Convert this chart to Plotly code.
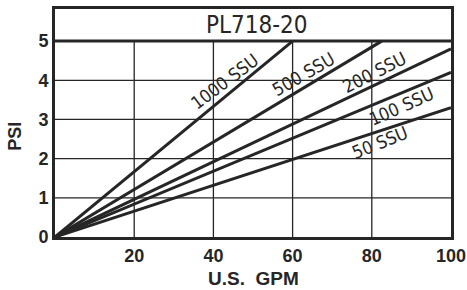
import plotly.graph_objects as go

# Data
series_names = ["1000 SSU", "500 SSU", "200 SSU", "100 SSU", "50 SSU"]
gpm_start = [0, 0, 0, 0, 0]
psi_start = [0, 0, 0, 0, 0]
gpm_end = [60, 82.5, 100, 100, 100]
psi_end = [5, 5, 4.8, 4.2, 3.3]

# Label positions / angles for each curve label
label_x = [42.8, 62.5, 80.5, 87.3, 82.0]
label_y = [3.98, 4.16, 4.21, 3.34, 2.40]
label_angle = [-37, -30, -27, -24, -22]

x_ticks = [20, 40, 60, 80, 100]
y_ticks = [0, 1, 2, 3, 4, 5]
x_grid = [20, 40, 60, 80]
y_grid = [1, 2, 3, 4]

chart_title = "PL718-20"
x_title = "U.S.  GPM"
y_title = "PSI"

INK = "#262626"
NARROW = "DejaVu Sans Condensed, Liberation Sans Narrow, Arial Narrow, Liberation Sans, sans-serif"
SANS = "Liberation Sans, Arial, sans-serif"

fig = go.Figure()

for name, x0, y0, x1, y1 in zip(series_names, gpm_start, psi_start, gpm_end, psi_end):
    fig.add_trace(go.Scatter(x=[x0, x1], y=[y0, y1], mode="lines", name=name,
                             line=dict(color=INK, width=3), showlegend=False,
                             hoverinfo="skip"))

shapes = []
for gx in x_grid:
    shapes.append(dict(type="line", xref="x", yref="y", x0=gx, x1=gx, y0=0, y1=5,
                       line=dict(color=INK, width=1.3), layer="below"))
for gy in y_grid:
    shapes.append(dict(type="line", xref="x", yref="y", x0=0, x1=100, y0=gy, y1=gy,
                       line=dict(color=INK, width=1.3), layer="below"))
# top of chart area / title box separator
shapes.append(dict(type="line", xref="x", yref="y", x0=0, x1=100, y0=5, y1=5,
                   line=dict(color=INK, width=3), layer="above"))

annotations = []
for name, lx, ly, ang in zip(series_names, label_x, label_y, label_angle):
    annotations.append(dict(x=lx, y=ly, xref="x", yref="y", text=name, showarrow=False,
                            textangle=ang, font=dict(family=NARROW, size=18, color=INK)))
annotations.append(dict(x=51, y=5.4, xref="x", yref="y", text=chart_title, showarrow=False,
                        font=dict(family=NARROW, size=24, color=INK)))
annotations.append(dict(x=0.5, y=-0.18, xref="paper", yref="paper", text="<b>" + x_title + "</b>",
                        xanchor="center", yanchor="middle",
                        showarrow=False, font=dict(family=SANS, size=19, color=INK)))
annotations.append(dict(x=-0.101, y=0.44, xref="paper", yref="paper", text="<b>" + y_title + "</b>",
                        xanchor="center", yanchor="middle",
                        showarrow=False, textangle=-90, font=dict(family=SANS, size=18, color=INK)))

fig.update_layout(
    width=467, height=290,
    margin=dict(l=55, r=16, t=9, b=53, autoexpand=False),
    paper_bgcolor="white", plot_bgcolor="white",
    shapes=shapes, annotations=annotations,
    xaxis=dict(range=[0, 100], tickvals=x_ticks, showgrid=False, zeroline=False,
               showline=True, linewidth=3, linecolor=INK, mirror=True, ticks="",
               tickfont=dict(family=SANS, size=18, color=INK, weight="bold")),
    yaxis=dict(range=[0, 5.82], tickvals=y_ticks, showgrid=False, zeroline=False,
               showline=True, linewidth=3, linecolor=INK, mirror=True, ticks="",
               tickfont=dict(family=SANS, size=18, color=INK, weight="bold")),
)

fig.write_html("out.html", config={"displayModeBar": False},
               post_script="document.body.style.margin='0px';")
